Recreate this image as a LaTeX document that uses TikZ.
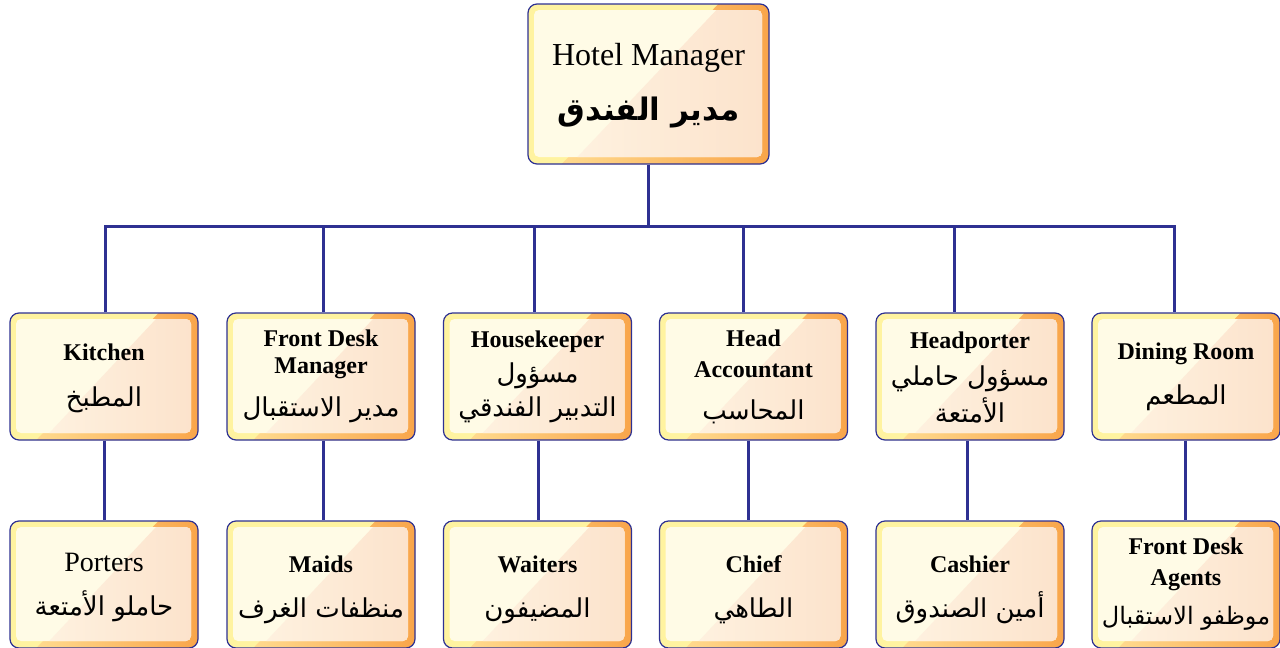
\documentclass[tikz,border=0pt]{standalone}
\usepackage{fontspec}
\setmainfont{Liberation Serif}
\newfontfamily\arabicfont[Script=Arabic]{DejaVu Sans}
\TeXXeTstate=1
\usetikzlibrary{calc}

\definecolor{navy}{HTML}{2E3192}
\definecolor{bandyellow}{HTML}{FFF3A0}
\definecolor{bandlight}{HTML}{FFDA8E}
\definecolor{bandorange}{HTML}{F9A54A}
\definecolor{cream}{HTML}{FFFBE6}
\definecolor{peachlight}{HTML}{FEF1DF}
\definecolor{peach}{HTML}{FCE3CC}

% Arabic line, right to left
\newcommand{\artext}[2][26]{{\arabicfont\mdseries\fontsize{#1}{30}\selectfont\beginR #2\endR}}
% invisible strut that lowers a card's text block
\newcommand{\lowerby}[1]{\rule{0pt}{#1}}

\tikzset{
  card/.style={draw=navy, line width=1.2pt, rounded corners=9pt, inner sep=0pt,
    align=center, fill=bandyellow,
    font=\fontsize{24}{29}\selectfont\bfseries,
    path picture={
      \coordinate (pNW) at (path picture bounding box.north west);
      \coordinate (pSE) at (path picture bounding box.south east);
      \coordinate (pNE) at (pNW -| pSE);
      \coordinate (pSW) at (pNW |- pSE);
      \shade[sharp corners, left color=bandlight, right color=bandorange]
        ($(pNW)!0.79!(pNE)$) -- (pNE) -- (pSE) -- ($(pSW)!0.14!(pSE)$) -- cycle;
      \coordinate (iNW) at ([shift={(6pt,-6pt)}]pNW);
      \coordinate (iSE) at ([shift={(-7pt,7pt)}]pSE);
      \coordinate (iNE) at (iNW -| iSE);
      \coordinate (iSW) at (iNW |- iSE);
      \fill[cream, rounded corners=5pt] (iNW) rectangle (iSE);
      \begin{scope}
        \clip[rounded corners=5pt] (iNW) rectangle (iSE);
        \shade[sharp corners, left color=peachlight, right color=peach]
          ($(iNW)!0.8!(iNE)$) -- (iNE) -- (iSE) -- ($(iSW)!0.19!(iSE)$) -- cycle;
      \end{scope}
    }},
  midcard/.style={card, minimum width=188pt, minimum height=127pt},
  wire/.style={draw=navy, line width=3pt, line join=miter},
}

\begin{document}
\begin{tikzpicture}[x=1pt, y=-1pt]
\useasboundingbox (0,0) rectangle (1280,648);

% top of the chart
\node[card, minimum width=241pt, minimum height=160pt] (top) at (648.5,84)
  {{\mdseries\fontsize{32}{36}\selectfont\lowerby{26pt}Hotel Manager}\\[24pt]
   {\arabicfont\bfseries\fontsize{31}{36}\selectfont\beginR مدير الفندق\endR}};

% department heads
\node[midcard] (m1) at (104,376.5)   {\lowerby{20pt}Kitchen\\[17pt]\artext{المطبخ}};
\node[midcard] (m2) at (321,376.5)   {Front Desk\\[-2pt]Manager\\[14pt]\artext{مدير الاستقبال}};
\node[midcard] (m3) at (537.5,376.5) {Housekeeper\\[6pt]\artext{مسؤول}\\[5pt]\artext{التدبير الفندقي}};
\node[midcard] (m4) at (753.5,376.5) {Head\\[2pt]Accountant\\[13pt]\artext{المحاسب}};
\node[midcard] (m5) at (970,376.5)   {\lowerby{19pt}Headporter\\[8pt]\artext{مسؤول حاملي}\\[5pt]\artext{الأمتعة}};
\node[midcard] (m6) at (1186,376.5)  {Dining Room\\[16pt]\artext{المطعم}};

% staff
\node[midcard] (b1) at (104,584.5)   {{\mdseries\fontsize{28}{30}\selectfont\lowerby{24pt}Porters}\\[15pt]\artext{حاملو الأمتعة}};
\node[midcard] (b2) at (321,584.5)   {\lowerby{28pt}Maids\\[16pt]\artext{منظفات الغرف}};
\node[midcard] (b3) at (537.5,584.5) {\lowerby{28pt}Waiters\\[16pt]\artext{المضيفون}};
\node[midcard] (b4) at (753.5,584.5) {\lowerby{28pt}Chief\\[16pt]\artext{الطاهي}};
\node[midcard] (b5) at (970,584.5)   {\lowerby{28pt}Cashier\\[16pt]\artext{أمين الصندوق}};
\node[midcard] (b6) at (1186,584.5)  {Front Desk\\[2pt]Agents\\[10pt]\artext[24]{موظفو الاستقبال}};

% bus junctions
\coordinate (j1) at (105,226);
\coordinate (j2) at (323,226);
\coordinate (j3) at (534,226);
\coordinate (j4) at (743,226);
\coordinate (j5) at (954,226);
\coordinate (j6) at (1174,226);

\draw[wire] (top.south) -- (top.south |- j1);
\draw[wire] (j1 |- m1.north) -- (j1) -- (j6) -- (j6 |- m6.north);
\draw[wire] (j2) -- (j2 |- m2.north);
\draw[wire] (j3) -- (j3 |- m3.north);
\draw[wire] (j4) -- (j4 |- m4.north);
\draw[wire] (j5) -- (j5 |- m5.north);

\draw[wire] ([xshift=0pt]m1.south)    -- ([xshift=0pt]b1.north);
\draw[wire] ([xshift=2pt]m2.south)    -- ([xshift=2pt]b2.north);
\draw[wire] ([xshift=0.5pt]m3.south)  -- ([xshift=0.5pt]b3.north);
\draw[wire] ([xshift=-5.5pt]m4.south) -- ([xshift=-5.5pt]b4.north);
\draw[wire] ([xshift=-3pt]m5.south)   -- ([xshift=-3pt]b5.north);
\draw[wire] ([xshift=-1pt]m6.south)   -- ([xshift=-1pt]b6.north);
\end{tikzpicture}
\end{document}
